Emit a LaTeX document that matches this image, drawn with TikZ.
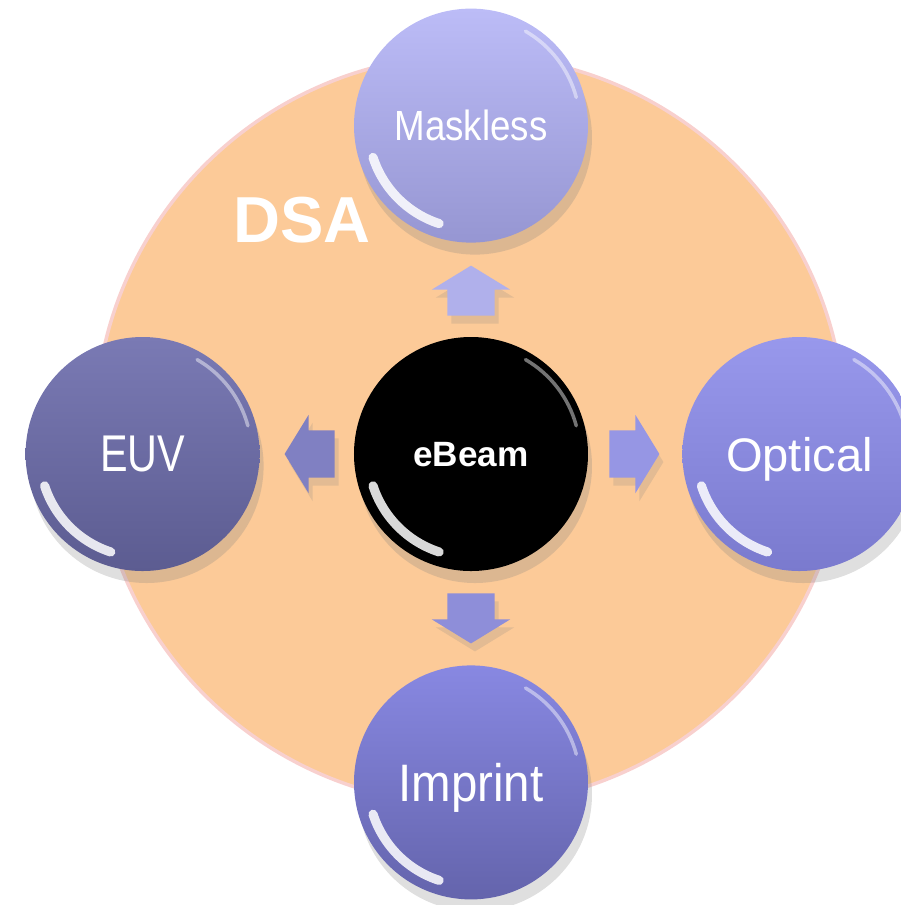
\documentclass[tikz,border=0pt]{standalone}
\usepackage{fontspec}
\usepackage{graphicx}
\setmainfont{Liberation Sans}
\usetikzlibrary{positioning,calc,shapes.arrows,shadows}
\definecolor{peach}{RGB}{252,202,152}
\definecolor{peachrim}{RGB}{248,208,206}
\definecolor{lilac}{RGB}{150,150,228}
\tikzset{
  bubble/.style={circle, minimum size=23.4mm, inner sep=0pt, text=white, text depth=0pt,
    drop shadow={shadow xshift=0.4mm, shadow yshift=-1.2mm, opacity=0.25}},
  blockarrow/.style={single arrow, minimum height=5mm, inner xsep=0pt, inner ysep=2.3mm,
    single arrow head extend=1.55mm, single arrow tip angle=117, anchor=tail,
    drop shadow={shadow xshift=0.4mm, shadow yshift=-0.8mm, opacity=0.2}},
  glint/.style={white, line width=2.6pt, line cap=round, opacity=0.85}
}
\newcommand{\shine}[1]{%
  \draw[glint] ($(#1.center)+(198:1.03)$) arc[start angle=198, end angle=252, radius=1.03];
  \draw[glint, line width=1pt, opacity=0.45] ($(#1.center)+(15:1.09)$) arc[start angle=15, end angle=60, radius=1.09];}
\begin{document}
\begin{tikzpicture}[node distance=9.3mm]
  \useasboundingbox (0,0) rectangle (9.01,-9.05);
  \clip (0,0) rectangle (9.01,-9.05);
  \filldraw[fill=peach, draw=peachrim, line width=1pt] (4.70,-4.30) circle (3.75);
  \node[font=\bfseries\fontsize{18.5}{20}\selectfont, text=white] (dsa) at (3.02,-2.20) {DSA};

  \node[bubble, fill=black, font=\bfseries\fontsize{10}{12}\selectfont] (ebeam) at (4.71,-4.54) {eBeam};
  \node[bubble, above=of ebeam, top color={rgb,255:red,188;green,188;blue,247}, bottom color={rgb,255:red,150;green,150;blue,210},
    font=\fontsize{12}{14}\selectfont] (maskless) {\scalebox{0.87}[1]{Maskless}};
  \node[bubble, left=of ebeam, top color={rgb,255:red,122;green,122;blue,180}, bottom color={rgb,255:red,92;green,92;blue,145},
    font=\fontsize{14.7}{16}\selectfont] (euv) {\scalebox{0.8}[1]{EUV}};
  \node[bubble, right=of ebeam, top color={rgb,255:red,152;green,152;blue,236}, bottom color={rgb,255:red,122;green,122;blue,206},
    font=\fontsize{13.4}{15}\selectfont] (optical) {Optical};
  \node[bubble, below=of ebeam, top color={rgb,255:red,136;green,136;blue,226}, bottom color={rgb,255:red,100;green,100;blue,172},
    font=\fontsize{15}{17}\selectfont] (imprint) {\scalebox{0.9}[1]{Imprint}};

  \foreach \b in {ebeam,maskless,euv,optical,imprint}
    \shine{\b};

  \node[blockarrow, rotate=90, fill=lilac!75!white] (toup) at ($(ebeam.north)+(0,0.2)$) {};
  \node[blockarrow, rotate=180, fill=lilac!85!black] (toleft) at ($(ebeam.west)+(-0.18,0)$) {};
  \node[blockarrow, fill=lilac] (toright) at ($(ebeam.east)+(0.2,0)$) {};
  \node[blockarrow, rotate=-90, fill=lilac!95!black] (todown) at ($(ebeam.south)+(0,-0.21)$) {};
\end{tikzpicture}
\end{document}
